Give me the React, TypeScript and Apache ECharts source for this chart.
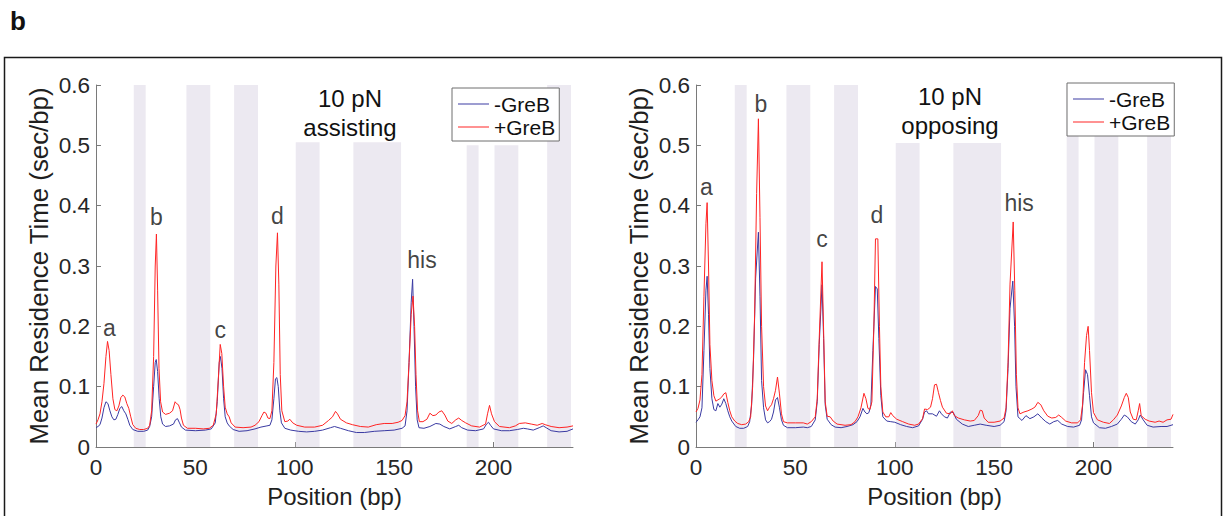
import React, { useEffect, useRef } from "react";
import * as echarts from "echarts";

const FONT = "'Liberation Sans', Arial, Helvetica, sans-serif";
const BLUE = "#3a3aa2";
const RED = "#ff2424";
const BAND = "#ece9f1";
const INK = "#1f1f1f";

const xTicks = [0, 50, 100, 150, 200];
const seriesNames = ["-GreB", "+GreB"];

// shaded regions: [start bp, end bp, top value]
const bandsAssisting = [
  [19, 25, 0.6], [45.5, 57.5, 0.6], [69.5, 81.5, 0.6], [100.5, 112.5, 0.505],
  [129.5, 153.5, 0.505], [186.5, 192.5, 0.5], [200.5, 212.5, 0.5], [227, 239, 0.6],
];
const bandsOpposing = [
  [19.5, 25.5, 0.6], [45.5, 57.5, 0.6], [69.5, 81.5, 0.6], [100.5, 112.5, 0.504],
  [129.5, 153.5, 0.504], [186.5, 192.5, 0.6], [200.5, 212.5, 0.6], [227, 239, 0.6],
];

// 10 pN assisting, -GreB
const assistMinus = [
  [0,0.032],[1,0.034],[2,0.037],[3,0.048],[4,0.065],[5,0.075],[6,0.072],[7,0.06],[8,0.05],[9,0.045],[10,0.046],[11,0.054],[12,0.064],[13,0.067],[14,0.06],[15,0.055],[16,0.046],[17,0.036],[18.5,0.029],[21,0.026],[24,0.026],[26,0.028],[27,0.034],[28,0.05],[29,0.1],[29.8,0.14],[30.3,0.145],[31,0.125],[31.8,0.08],[32.6,0.05],[33.5,0.038],[35,0.034],[37,0.035],[39,0.038],[40,0.045],[41,0.047],[42,0.04],[43,0.033],[45,0.028],[50,0.027],[55,0.028],[58,0.03],[60,0.04],[61,0.075],[62,0.14],[62.6,0.15],[63.4,0.13],[64.2,0.08],[65,0.05],[66,0.04],[67,0.035],[69,0.029],[72,0.026],[76,0.027],[80,0.03],[83,0.033],[86,0.035],[87.5,0.036],[88.5,0.045],[89.5,0.08],[90.3,0.113],[91,0.115],[91.7,0.1],[92.5,0.06],[93.3,0.04],[95,0.031],[98,0.028],[102,0.026],[106,0.025],[110,0.026],[114,0.028],[118,0.032],[120,0.034],[123,0.031],[127,0.027],[131,0.024],[135,0.024],[140,0.026],[145,0.027],[150,0.028],[154,0.031],[155.5,0.035],[156.5,0.06],[157.5,0.14],[158.6,0.24],[159.3,0.278],[160,0.2],[160.8,0.1],[161.6,0.045],[162.5,0.032],[165,0.031],[168,0.034],[171,0.039],[173,0.038],[175,0.034],[178,0.03],[181,0.034],[182.5,0.036],[184,0.032],[187,0.028],[191,0.027],[195,0.03],[196.5,0.038],[197.5,0.041],[198.5,0.036],[200,0.03],[204,0.027],[208,0.027],[212,0.029],[215,0.031],[217,0.03],[220,0.028],[223,0.032],[225,0.035],[226.5,0.032],[229,0.027],[233,0.025],[237,0.026],[240,0.03],
];

// 10 pN assisting, +GreB
const assistPlus = [
  [0,0.038],[1,0.045],[2,0.055],[3,0.075],[4,0.105],[5,0.15],[5.8,0.175],[6.6,0.16],[7.5,0.12],[8.5,0.08],[9.5,0.062],[10.5,0.06],[11.5,0.068],[12.5,0.082],[13.5,0.086],[14.5,0.083],[15.5,0.072],[16.5,0.064],[17.5,0.05],[18.5,0.037],[20,0.031],[22,0.029],[24,0.029],[26,0.031],[27,0.036],[28,0.06],[29,0.15],[29.8,0.3],[30.4,0.353],[31,0.26],[31.7,0.13],[32.5,0.075],[33.5,0.058],[35,0.054],[37,0.056],[38.5,0.06],[39.8,0.075],[40.5,0.072],[41.5,0.07],[42.3,0.062],[43,0.048],[44,0.036],[46,0.031],[50,0.031],[54,0.03],[57,0.031],[59,0.036],[60.5,0.055],[61.5,0.11],[62.5,0.17],[63.3,0.155],[64.2,0.1],[65,0.066],[66,0.055],[67,0.05],[68,0.04],[70,0.033],[74,0.032],[78,0.033],[80,0.036],[82,0.042],[83.5,0.052],[84.5,0.058],[85.5,0.056],[86.5,0.048],[87.5,0.047],[88.5,0.06],[89.5,0.14],[90.5,0.3],[91.3,0.355],[92,0.27],[92.7,0.12],[93.5,0.06],[95,0.042],[96.5,0.043],[97.5,0.046],[99,0.04],[101,0.036],[105,0.033],[110,0.033],[114,0.036],[117,0.044],[119,0.05],[120.5,0.059],[121.5,0.055],[123,0.046],[126,0.04],[129,0.037],[133,0.034],[137,0.033],[141,0.037],[145,0.039],[149,0.039],[152,0.041],[154,0.044],[155.5,0.052],[156.5,0.075],[157.5,0.14],[158.6,0.22],[159.5,0.25],[160.3,0.2],[161,0.12],[161.8,0.06],[162.7,0.042],[164.5,0.042],[166.5,0.046],[168,0.056],[169.5,0.052],[171,0.053],[172.5,0.058],[174,0.06],[175.5,0.053],[177,0.043],[179,0.039],[181,0.045],[182.5,0.048],[184,0.044],[186,0.04],[189,0.035],[193,0.033],[196,0.038],[197,0.055],[198,0.069],[199,0.055],[200.5,0.042],[203,0.034],[208,0.032],[211,0.035],[213,0.039],[216,0.04],[219,0.038],[222,0.036],[224.5,0.039],[226,0.037],[229,0.034],[233,0.032],[237,0.033],[240,0.035],
];

// 10 pN opposing, -GreB
const opposeMinus = [
  [0,0.041],[1,0.045],[2,0.05],[3,0.065],[4,0.16],[5,0.26],[5.6,0.283],[6.3,0.22],[7,0.13],[8,0.08],[9,0.062],[10,0.06],[11,0.072],[12,0.066],[13,0.071],[14,0.08],[15,0.072],[16,0.06],[17,0.05],[18,0.043],[20,0.034],[22,0.031],[24,0.031],[26,0.034],[27,0.042],[28,0.07],[29,0.15],[30,0.28],[31.4,0.356],[32.2,0.25],[33,0.11],[34,0.065],[35,0.045],[36,0.04],[37,0.042],[38,0.046],[39,0.058],[40,0.078],[41,0.082],[42,0.065],[43,0.045],[44,0.036],[46,0.032],[50,0.032],[54,0.033],[56,0.032],[58,0.034],[60,0.045],[61,0.075],[62,0.17],[63.4,0.269],[64.2,0.18],[65,0.07],[66,0.046],[68,0.037],[70,0.033],[73,0.032],[76,0.034],[79,0.037],[81,0.042],[82.5,0.05],[84,0.064],[85,0.058],[86,0.055],[87,0.057],[88,0.07],[89,0.16],[90.3,0.266],[91.2,0.262],[92,0.18],[93,0.085],[94,0.05],[96,0.043],[98,0.042],[100,0.041],[103,0.037],[106,0.034],[109,0.032],[112,0.035],[114,0.046],[115,0.058],[116,0.06],[117,0.055],[119,0.055],[121,0.051],[122.5,0.06],[123.5,0.055],[125,0.05],[126.5,0.048],[128,0.058],[129.5,0.057],[131,0.046],[134,0.038],[137,0.034],[140,0.036],[143,0.038],[146,0.036],[150,0.034],[153,0.036],[155,0.042],[156,0.06],[157,0.13],[158,0.23],[159.4,0.275],[160.3,0.2],[161,0.1],[162,0.05],[164,0.044],[166,0.052],[168,0.047],[170,0.05],[172,0.055],[174,0.048],[176,0.042],[178,0.038],[180,0.042],[182,0.044],[184,0.038],[187,0.034],[190,0.033],[193,0.036],[194,0.045],[195,0.09],[196,0.128],[197,0.12],[198,0.085],[199,0.05],[200,0.04],[203,0.032],[206,0.031],[209,0.034],[212,0.038],[214,0.046],[215.5,0.053],[217,0.05],[219,0.042],[221,0.038],[222.5,0.045],[223.5,0.053],[225,0.045],[227,0.036],[230,0.033],[234,0.034],[237,0.034],[240,0.037],
];

// 10 pN opposing, +GreB
const opposePlus = [
  [0,0.058],[1,0.064],[2,0.078],[3,0.12],[4,0.25],[5,0.37],[5.6,0.405],[6.3,0.3],[7,0.17],[8,0.11],[9,0.085],[10,0.076],[11,0.078],[12,0.08],[13,0.083],[14,0.088],[15,0.09],[16,0.074],[17,0.06],[18,0.05],[19.5,0.043],[21,0.039],[23,0.037],[25,0.038],[26.5,0.042],[27.5,0.05],[28.5,0.1],[29.5,0.22],[30.5,0.42],[31.4,0.544],[32.2,0.38],[33,0.2],[34,0.1],[35,0.068],[36,0.06],[37,0.066],[38,0.07],[39,0.08],[40,0.094],[41,0.116],[42,0.088],[43,0.055],[44,0.042],[46,0.04],[50,0.04],[54,0.04],[56,0.038],[58,0.042],[60,0.05],[61,0.08],[62,0.18],[63.4,0.307],[64.3,0.18],[65,0.075],[66,0.051],[67.5,0.05],[69,0.043],[71,0.038],[75,0.036],[78,0.037],[80,0.042],[81.5,0.05],[83,0.065],[84.5,0.089],[85.5,0.08],[86.5,0.064],[87.5,0.062],[88.5,0.075],[89.5,0.2],[90.3,0.345],[91.5,0.345],[92.3,0.2],[93,0.1],[94,0.058],[95.5,0.05],[97,0.05],[98,0.057],[99,0.052],[101,0.046],[104,0.042],[107,0.038],[110,0.036],[112,0.038],[114,0.047],[115,0.063],[116.5,0.062],[118,0.066],[119,0.08],[120,0.103],[121,0.104],[122,0.09],[123,0.077],[124,0.066],[126,0.056],[128,0.055],[129,0.06],[130,0.052],[132,0.048],[135,0.045],[138,0.043],[140,0.044],[142,0.052],[143,0.061],[144,0.06],[145,0.048],[147,0.041],[150,0.041],[153,0.043],[155,0.048],[156,0.065],[157,0.14],[158,0.27],[159.6,0.373],[160.4,0.26],[161.2,0.12],[162,0.065],[163,0.055],[165,0.058],[167,0.06],[169,0.063],[170.5,0.066],[172,0.074],[173.5,0.07],[175,0.06],[177,0.051],[179,0.048],[181,0.049],[182.5,0.053],[184,0.049],[186,0.043],[189,0.04],[192,0.04],[193.5,0.045],[194.5,0.07],[195.5,0.14],[196.5,0.185],[197.3,0.2],[198,0.16],[199,0.09],[200,0.057],[202,0.045],[205,0.041],[208,0.039],[210,0.045],[212,0.053],[214,0.068],[215.5,0.082],[216.5,0.089],[217.5,0.082],[218.5,0.058],[220,0.046],[221.5,0.045],[222.5,0.06],[223.2,0.072],[224,0.052],[226,0.046],[228,0.043],[231,0.041],[233,0.043],[235,0.041],[237,0.045],[239,0.046],[240,0.054],
];

// peak annotations: [x, y, text]
const peakLabelsAssisting = [
  [6.7, 0.197, "a"], [30.4, 0.381, "b"], [62.5, 0.194, "c"], [91.3, 0.383, "d"], [164, 0.31, "his"],
];
const peakLabelsOpposing = [
  [5.2, 0.431, "a"], [32.6, 0.569, "b"], [63.4, 0.345, "c"], [91, 0.385, "d"], [162.6, 0.405, "his"],
];

const panelTitles = ["10 pN\nassisting", "10 pN\nopposing"];
const xName = "Position (bp)";
const yName = "Mean Residence Time (sec/bp)";

function axisX(i: number) {
  return {
    type: "value" as const,
    gridIndex: i,
    min: 0,
    max: 240,
    name: xName,
    nameLocation: "middle" as const,
    nameGap: 37,
    nameTextStyle: { fontSize: 24, color: INK, fontFamily: FONT },
    axisLine: { show: true, lineStyle: { color: "#7a7a7a", width: 1 } },
    axisTick: { show: true, inside: true, length: 5, customValues: xTicks, lineStyle: { color: "#7a7a7a" } },
    axisLabel: { show: true, customValues: xTicks, fontSize: 22.5, color: "#262626", fontFamily: FONT, margin: 9 },
    splitLine: { show: false },
  };
}

function axisY(i: number) {
  return {
    type: "value" as const,
    gridIndex: i,
    min: 0,
    max: 0.6,
    interval: 0.1,
    name: yName,
    nameLocation: "middle" as const,
    nameGap: 44,
    nameTextStyle: { fontSize: 25.8, color: INK, fontFamily: FONT },
    axisLine: { show: true, lineStyle: { color: "#7a7a7a", width: 1 } },
    axisTick: { show: true, inside: true, length: 5, lineStyle: { color: "#7a7a7a" } },
    axisLabel: {
      fontSize: 22.5,
      color: "#262626",
      fontFamily: FONT,
      margin: 6,
      formatter: (v: number) => String(Math.round(v * 10) / 10),
    },
    splitLine: { show: false },
  };
}

function bandSeries(i: number, bands: number[][]) {
  return {
    type: "custom" as const,
    xAxisIndex: i,
    yAxisIndex: i,
    silent: true,
    z: 1,
    data: bands,
    encode: { x: [0, 1], y: 2 },
    renderItem: (_p: any, api: any) => {
      const a = api.coord([api.value(0), api.value(2)]);
      const b = api.coord([api.value(1), 0]);
      return {
        type: "rect",
        shape: { x: a[0], y: a[1], width: b[0] - a[0], height: b[1] - a[1] },
        style: { fill: BAND },
      };
    },
  };
}

function lineSeries(i: number, name: string, data: number[][], color: string) {
  return {
    type: "line" as const,
    name,
    xAxisIndex: i,
    yAxisIndex: i,
    data,
    showSymbol: false,
    symbol: "none",
    z: 3,
    color,
    lineStyle: { color, width: 1 },
  };
}

function labelSeries(i: number, labels: (number | string)[][]) {
  return {
    type: "scatter" as const,
    xAxisIndex: i,
    yAxisIndex: i,
    silent: true,
    symbolSize: 0,
    z: 4,
    data: labels.map((l) => ({ value: [l[0], l[1]], name: l[2] })),
    label: {
      show: true,
      position: "inside",
      formatter: (p: any) => p.name,
      fontSize: 23,
      color: "#111",
      fontFamily: FONT,
    },
  };
}

function legend(left: number, top: number) {
  return {
    data: seriesNames,
    orient: "vertical" as const,
    left,
    top,
    selectedMode: false,
    icon: "rect",
    itemWidth: 31,
    itemHeight: 1,
    itemGap: 1,
    padding: [5, 4, 3, 6],
    backgroundColor: "#ffffff",
    borderColor: "#6e6e6e",
    borderWidth: 1,
    borderRadius: 0,
    z: 10,
    textStyle: { fontSize: 21, color: "#111", fontFamily: FONT, lineHeight: 22 },
  };
}

export default function App() {
  const ref = useRef<HTMLDivElement>(null);
  useEffect(() => {
    if (!ref.current) return;
    const chart = echarts.init(ref.current, undefined, { renderer: "svg" });
    chart.setOption({
      animation: false,
      backgroundColor: "#ffffff",
      grid: [
        { left: 96, top: 85, width: 477, height: 362 },
        { left: 696, top: 85, width: 477, height: 362 },
      ],
      xAxis: [axisX(0), axisX(1)],
      yAxis: [axisY(0), axisY(1)],
      legend: [legend(452, 88), legend(1067, 83)],
      series: [
        bandSeries(0, bandsAssisting),
        bandSeries(1, bandsOpposing),
        lineSeries(0, seriesNames[0], assistMinus, BLUE),
        lineSeries(0, seriesNames[1], assistPlus, RED),
        lineSeries(1, seriesNames[0], opposeMinus, BLUE),
        lineSeries(1, seriesNames[1], opposePlus, RED),
        labelSeries(0, peakLabelsAssisting),
        labelSeries(1, peakLabelsOpposing),
      ],
      graphic: [
        {
          type: "rect",
          shape: { x: 4.5, y: 57.5, width: 1217, height: 480 },
          style: { fill: "none", stroke: "#1a1a1a", lineWidth: 1.5 },
          silent: true,
          z: 0,
        },
        {
          type: "text",
          left: 10,
          top: 8,
          style: { text: "b", font: `bold 26px ${FONT}`, fill: "#111" },
        },
        {
          type: "text",
          x: 350,
          y: 113,
          style: {
            text: panelTitles[0],
            font: `24px ${FONT}`,
            fill: "#111",
            align: "center",
            verticalAlign: "middle",
            lineHeight: 29,
          },
          z: 5,
        },
        {
          type: "text",
          x: 950,
          y: 111,
          style: {
            text: panelTitles[1],
            font: `24px ${FONT}`,
            fill: "#111",
            align: "center",
            verticalAlign: "middle",
            lineHeight: 29,
          },
          z: 5,
        },
      ],
    });
    return () => chart.dispose();
  }, []);
  return (
    <div
      ref={ref}
      style={{ position: "absolute", left: 0, top: 0, width: 1225, height: 516, background: "#fff" }}
    />
  );
}
